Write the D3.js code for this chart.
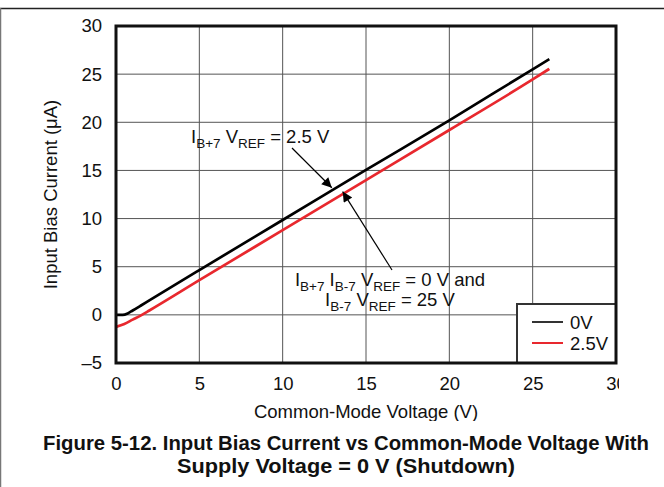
<!DOCTYPE html>
<html><head><meta charset="utf-8">
<script src="https://cdn.jsdelivr.net/npm/d3@7"></script>
<style>body{margin:0;background:#fff}svg{display:block;font-family:"Liberation Sans",Arial,sans-serif}</style>
</head><body><svg id="c" width="664" height="487"></svg>
<script>
const xTicks=[0,5,10,15,20,25,30];
const yTicks=[-5,0,5,10,15,20,25,30];
const yTickLabels=["–5","0","5","10","15","20","25","30"];
const seriesNames=["0V","2.5V"];
const seriesColors=["#000000","#e8282e"];
const vcm0=[0,0.4,0.7,1,1.5,2,5,10,15,20,25,26];
const ib0=[0,0,0.15,0.45,0.97,1.5,4.65,9.85,15.05,20.2,25.5,26.55];
const vcm25=[0,0.5,1,1.5,2,5,10,15,20,25,26];
const ib25=[-1.25,-0.95,-0.5,-0.05,0.45,3.6,8.8,14.0,19.2,24.45,25.55];

const svg=d3.select("#c");
const L=116,R=616,T=26,B=363;
const x=d3.scaleLinear().domain([0,30]).range([L,R]);
const y=d3.scaleLinear().domain([-5,30]).range([B,T]);
const FS=18.5;

// page borders
svg.append("line").attr("x1",0).attr("x2",664).attr("y1",8.5).attr("y2",8.5).attr("stroke","#222").attr("stroke-width",1.5);
svg.append("line").attr("x1",0.5).attr("x2",0.5).attr("y1",8).attr("y2",487).attr("stroke","#777").attr("stroke-width",1.5);

// grid
const g=svg.append("g");
g.selectAll("line.vx").data(xTicks.slice(1,-1)).enter().append("line")
 .attr("x1",d=>x(d)).attr("x2",d=>x(d)).attr("y1",T).attr("y2",B).attr("stroke","#555").attr("stroke-width",1);
g.selectAll("line.hy").data(yTicks.slice(1,-1)).enter().append("line")
 .attr("x1",L).attr("x2",R).attr("y1",d=>y(d)).attr("y2",d=>y(d)).attr("stroke","#555").attr("stroke-width",1);

// axes labels via d3 axes
svg.append("clipPath").attr("id","xc").append("rect").attr("x",0).attr("y",0).attr("width",619).attr("height",487);
const xa=svg.append("g").attr("transform",`translate(0,${B})`).attr("clip-path","url(#xc)")
 .call(d3.axisBottom(x).tickValues(xTicks).tickSize(0).tickPadding(14));
xa.select(".domain").remove();
xa.selectAll("text").attr("font-size",FS).attr("fill","#111").attr("font-family","Liberation Sans,Arial");
const ya=svg.append("g").attr("transform",`translate(${L},0)`).call(d3.axisLeft(y).tickValues(yTicks).tickSize(0).tickPadding(14).tickFormat((d,i)=>yTickLabels[i]));
ya.select(".domain").remove();
ya.selectAll("text").attr("font-size",FS).attr("fill","#111").attr("font-family","Liberation Sans,Arial");

// series
const line=d3.line().x(d=>x(d[0])).y(d=>y(d[1])).curve(d3.curveMonotoneX);
svg.append("path").datum(vcm25.map((v,i)=>[v,ib25[i]])).attr("d",line).attr("fill","none").attr("stroke",seriesColors[1]).attr("stroke-width",2.7);
svg.append("path").datum(vcm0.map((v,i)=>[v,ib0[i]])).attr("d",line).attr("fill","none").attr("stroke",seriesColors[0]).attr("stroke-width",2.7);

// legend
const lg=svg.append("g");
lg.append("rect").attr("x",517).attr("y",304).attr("width",99).attr("height",59).attr("fill","#fff").attr("stroke","#333").attr("stroke-width",2);
seriesNames.forEach((n,i)=>{
  const yy=322+i*21;
  lg.append("line").attr("x1",532).attr("x2",563).attr("y1",yy).attr("y2",yy).attr("stroke",i?seriesColors[1]:"#333").attr("stroke-width",2);
  lg.append("text").attr("x",570).attr("y",yy+7).attr("font-size",FS).attr("fill","#111").text(n);
});
// frame
svg.append("rect").attr("x",L).attr("y",T).attr("width",R-L).attr("height",B-T).attr("fill","none").attr("stroke","#111").attr("stroke-width",3);

// annotations
const defs=svg.append("defs");
defs.append("marker").attr("id","ah").attr("viewBox","0 0 10 10").attr("refX",10).attr("refY",5)
 .attr("markerWidth",13).attr("markerHeight",10).attr("markerUnits","userSpaceOnUse").attr("orient","auto")
 .append("path").attr("d","M0,0L10,5L0,10Z").attr("fill","#000");
svg.append("line").attr("x1",292).attr("y1",148).attr("x2",x(12.95)).attr("y2",y(13.2)).attr("stroke","#000").attr("stroke-width",1.2).attr("marker-end","url(#ah)");
svg.append("line").attr("x1",392).attr("y1",270).attr("x2",x(13.6)).attr("y2",y(12.8)).attr("stroke","#000").attr("stroke-width",1.2).attr("marker-end","url(#ah)");

function rich(parts,xx,yy,anchor){
  const t=svg.append("text").attr("x",xx).attr("y",yy).attr("font-size",FS).attr("fill","#111").attr("text-anchor",anchor||"start");
  parts.forEach(p=>{
    const s=t.append("tspan").text(p[0]);
    if(p[1]){s.attr("font-size",13.5).attr("dy",4.5);} else {s.attr("dy",p[2]||0);}
  });
  return t;
}
rich([["I"],["B+7",1],[" V",0,-4.5],["REF",1],[" = 2.5 V",0,-4.5]],191,143);
rich([["I"],["B+7",1],[" I",0,-4.5],["B-7",1],[" V",0,-4.5],["REF",1],[" = 0 V and",0,-4.5]],390,286,"middle");
rich([["I"],["B-7",1],[" V",0,-4.5],["REF",1],[" = 25 V",0,-4.5]],390,306,"middle");

// axis titles
svg.append("clipPath").attr("id","tc").append("rect").attr("x",0).attr("y",0).attr("width",664).attr("height",421);
svg.append("text").attr("x",x(15)).attr("y",418).attr("text-anchor","middle").attr("font-size",FS).attr("fill","#111").attr("clip-path","url(#tc)").text("Common-Mode Voltage (V)");
svg.append("text").attr("transform",`translate(57,${(T+B)/2}) rotate(-90)`).attr("text-anchor","middle").attr("font-size",FS).attr("fill","#111").text("Input Bias Current (μA)");

// caption
svg.append("text").attr("x",346).attr("y",450).attr("text-anchor","middle").attr("font-size",20.3).attr("font-weight","bold").attr("fill","#111")
 .attr("textLength",606).attr("lengthAdjust","spacingAndGlyphs").text("Figure 5-12. Input Bias Current vs Common-Mode Voltage With");
svg.append("text").attr("x",346).attr("y",473).attr("text-anchor","middle").attr("font-size",20.3).attr("font-weight","bold").attr("fill","#111")
 .attr("textLength",338).attr("lengthAdjust","spacingAndGlyphs").text("Supply Voltage = 0 V (Shutdown)");
</script></body></html>
